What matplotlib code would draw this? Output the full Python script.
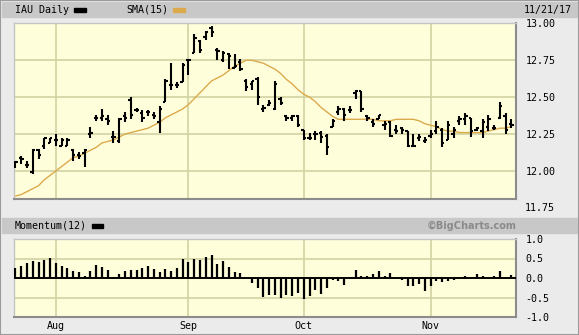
import matplotlib
matplotlib.use("Agg")
import matplotlib.pyplot as plt
from matplotlib.patches import Rectangle

# IAU daily bars, Jul 21 - Nov 21 2017
opens = [12.04, 12.09, 12.04, 11.99, 12.14, 12.17, 12.19, 12.21, 12.17, 12.17,
         12.14, 12.11, 12.12, 12.25, 12.36, 12.36, 12.35, 12.23, 12.20, 12.37,
         12.48, 12.41, 12.39, 12.40, 12.38, 12.33, 12.47, 12.58, 12.58, 12.60,
         12.75, 12.80, 12.88, 12.91, 12.97, 12.82, 12.75, 12.79, 12.70, 12.74,
         12.61, 12.59, 12.62, 12.42, 12.45, 12.42, 12.49, 12.37, 12.36, 12.37,
         12.28, 12.22, 12.25, 12.26, 12.24, 12.30, 12.40, 12.42, 12.41, 12.53,
         12.54, 12.37, 12.33, 12.35, 12.31, 12.33, 12.28, 12.29, 12.27, 12.17,
         12.22, 12.20, 12.24, 12.27, 12.28, 12.21, 12.25, 12.34, 12.35, 12.36,
         12.28, 12.27, 12.30, 12.29, 12.36, 12.37, 12.32]
highs = [12.07, 12.10, 12.07, 12.15, 12.15, 12.22, 12.22, 12.25, 12.22, 12.22,
         12.15, 12.13, 12.15, 12.30, 12.38, 12.42, 12.38, 12.27, 12.36, 12.40,
         12.50, 12.43, 12.41, 12.41, 12.40, 12.44, 12.62, 12.73, 12.60, 12.73,
         12.75, 12.93, 12.89, 12.95, 12.98, 12.83, 12.81, 12.80, 12.79, 12.76,
         12.62, 12.61, 12.64, 12.45, 12.48, 12.61, 12.50, 12.38, 12.38, 12.38,
         12.28, 12.26, 12.27, 12.27, 12.25, 12.35, 12.44, 12.43, 12.44, 12.55,
         12.54, 12.38, 12.35, 12.38, 12.34, 12.34, 12.31, 12.30, 12.27, 12.25,
         12.25, 12.23, 12.28, 12.34, 12.29, 12.34, 12.30, 12.37, 12.39, 12.36,
         12.30, 12.35, 12.38, 12.31, 12.47, 12.39, 12.35]
lows = [12.02, 12.05, 12.02, 11.98, 12.08, 12.15, 12.19, 12.17, 12.17, 12.17,
        12.07, 12.08, 12.03, 12.22, 12.34, 12.34, 12.31, 12.19, 12.19, 12.33,
        12.35, 12.40, 12.33, 12.37, 12.35, 12.26, 12.47, 12.55, 12.56, 12.60,
        12.65, 12.80, 12.80, 12.89, 12.91, 12.75, 12.74, 12.69, 12.70, 12.68,
        12.54, 12.55, 12.45, 12.40, 12.44, 12.41, 12.45, 12.34, 12.34, 12.30,
        12.21, 12.21, 12.21, 12.19, 12.11, 12.30, 12.38, 12.34, 12.39, 12.49,
        12.40, 12.34, 12.30, 12.35, 12.28, 12.23, 12.25, 12.25, 12.16, 12.16,
        12.20, 12.19, 12.22, 12.25, 12.16, 12.21, 12.22, 12.31, 12.31, 12.23,
        12.27, 12.22, 12.27, 12.28, 12.35, 12.25, 12.29]
closes = [12.06, 12.08, 12.04, 12.14, 12.11, 12.22, 12.22, 12.21, 12.21, 12.21,
          12.11, 12.10, 12.14, 12.26, 12.36, 12.37, 12.34, 12.23, 12.35, 12.36,
          12.38, 12.41, 12.36, 12.40, 12.37, 12.42, 12.61, 12.58, 12.58, 12.72,
          12.75, 12.90, 12.82, 12.94, 12.94, 12.81, 12.80, 12.78, 12.71, 12.69,
          12.57, 12.61, 12.50, 12.43, 12.46, 12.59, 12.46, 12.36, 12.37, 12.31,
          12.22, 12.22, 12.25, 12.23, 12.16, 12.34, 12.42, 12.38, 12.41, 12.54,
          12.42, 12.36, 12.32, 12.38, 12.32, 12.24, 12.27, 12.28, 12.17, 12.17,
          12.23, 12.21, 12.25, 12.30, 12.19, 12.31, 12.28, 12.35, 12.37, 12.27,
          12.29, 12.33, 12.35, 12.29, 12.44, 12.28, 12.31]
sma15 = [11.83, 11.84, 11.86, 11.88, 11.90, 11.94, 11.97, 12.00, 12.03, 12.06,
         12.09, 12.10, 12.12, 12.14, 12.16, 12.19, 12.20, 12.21, 12.23, 12.25,
         12.26, 12.27, 12.28, 12.29, 12.31, 12.33, 12.36, 12.38, 12.40, 12.42,
         12.45, 12.49, 12.53, 12.57, 12.61, 12.63, 12.65, 12.68, 12.71, 12.73,
         12.75, 12.75, 12.74, 12.73, 12.71, 12.69, 12.66, 12.62, 12.59, 12.55,
         12.52, 12.50, 12.47, 12.43, 12.40, 12.37, 12.35, 12.35, 12.35, 12.35,
         12.35, 12.35, 12.35, 12.34, 12.34, 12.34, 12.35, 12.35, 12.35, 12.35,
         12.34, 12.32, 12.31, 12.30, 12.28, 12.27, 12.27, 12.26, 12.26, 12.26,
         12.26, 12.26, 12.27, 12.28, 12.29, 12.29, 12.30]
momentum = [0.25, 0.31, 0.39, 0.44, 0.42, 0.46, 0.52, 0.39, 0.31, 0.25,
            0.18, 0.15, 0.04, 0.18, 0.33, 0.28, 0.21, 0.00, 0.10, 0.18,
            0.21, 0.21, 0.25, 0.31, 0.23, 0.16, 0.23, 0.18, 0.25, 0.49,
            0.41, 0.49, 0.46, 0.54, 0.60, 0.36, 0.44, 0.28, 0.15, 0.12,
            0.00, -0.13, -0.26, -0.48, -0.44, -0.44, -0.51, -0.44, -0.46, -0.39,
            -0.54, -0.46, -0.31, -0.42, -0.25, -0.05, -0.08, -0.18, -0.03, 0.20,
            0.06, 0.04, 0.09, 0.18, 0.04, 0.12, 0.00, -0.05, -0.21, -0.21,
            -0.16, -0.34, -0.21, -0.08, -0.11, -0.08, -0.05, -0.03, 0.06, -0.03,
            0.09, 0.06, 0.00, 0.06, 0.18, 0.00, 0.07]

month_labels = ["Aug", "Sep", "Oct", "Nov"]
month_pos = [7, 30, 50, 72]
price_ticks = [12.00, 12.25, 12.50, 12.75, 13.00]
mom_ticks = [-1.0, -0.5, 0.0, 0.5, 1.0]

W, H = 579, 335
BG = "#ebebeb"
HEAD = "#c8c8c8"
PANEL = "#fefedb"
GRID = "#d2d2a2"
SMA_COLOR = "#dcaa4c"
MONO = "DejaVu Sans Mono"
FS = 7.2

fig = plt.figure(figsize=(W / 100, H / 100), dpi=100, facecolor=BG)


def fx(px):
    return px / W


def fy(py):
    return 1 - py / H


# outer frame and header strips
fig.patches.append(Rectangle((0, 0), 1, 1, transform=fig.transFigure, fill=False,
                             edgecolor="#9a9a9a", linewidth=1.5))
for top, bot in [(2, 17), (218, 233)]:
    fig.patches.append(Rectangle((fx(2), fy(bot)), fx(W - 4), (bot - top) / H,
                                 transform=fig.transFigure, color=HEAD, zorder=0))

x = list(range(len(closes)))
xlim = (-0.25, 86.8)

ax = fig.add_axes([fx(14), fy(199), fx(502), (199 - 23.4) / H])
ax.set_facecolor(PANEL)
ax.set_xlim(*xlim)
ax.set_ylim(11.81, 13.0)
for m in month_pos:
    ax.axvline(m, color=GRID, linewidth=1.2, zorder=1)
for t in price_ticks[:-1]:
    ax.axhline(t, color=GRID, linewidth=1.2, zorder=1)
ax.plot(x, sma15, color=SMA_COLOR, linewidth=1.0, zorder=2)
w = 0.4
ax.vlines(x, lows, highs, color="black", linewidth=1.5, zorder=3)
ax.hlines(opens, [i - w for i in x], x, color="black", linewidth=1.5, zorder=3)
ax.hlines(closes, x, [i + w for i in x], color="black", linewidth=1.5, zorder=3)
ax.yaxis.tick_right()
ax.set_yticks(price_ticks)
ax.set_yticklabels([f"{t:.2f}" for t in price_ticks], fontfamily=MONO, fontsize=FS)
ax.tick_params(length=0, pad=7)
ax.set_xticks([])
ax.text(1 + 9 / 502, -0.05, "11.75", transform=ax.transAxes, fontfamily=MONO,
        fontsize=FS, ha="left", va="center")

ax2 = fig.add_axes([fx(14), fy(317), fx(502), 78 / H])
ax2.set_facecolor(PANEL)
ax2.set_xlim(*xlim)
ax2.set_ylim(-1.0, 1.0)
for m in month_pos:
    ax2.axvline(m, color=GRID, linewidth=1.2, zorder=1)
for t in [-0.5, 0.5]:
    ax2.axhline(t, color=GRID, linewidth=1.2, zorder=1)
ax2.vlines(x, 0, momentum, color="black", linewidth=1.6, zorder=3)
ax2.axhline(0, color="black", linewidth=1.4, zorder=3)
ax2.yaxis.tick_right()
ax2.set_yticks(mom_ticks)
ax2.set_yticklabels([f"{t:.1f}" for t in mom_ticks], fontfamily=MONO, fontsize=FS)
ax2.set_xticks(month_pos)
ax2.set_xticklabels(month_labels, fontfamily=MONO, fontsize=FS)
ax2.tick_params(length=0, pad=7)
ax2.tick_params(axis="x", pad=3)

for a in (ax, ax2):
    for side in ("top", "left"):
        a.spines[side].set_color("#c4c4c4")
        a.spines[side].set_linewidth(1)
    for side in ("bottom", "right"):
        a.spines[side].set_color("#8c8c8c")
        a.spines[side].set_linewidth(1.5)

# header texts and legend swatches
fig.text(fx(15), fy(10), "IAU Daily", fontfamily=MONO, fontsize=FS, va="center")
fig.patches.append(Rectangle((fx(74), fy(12)), fx(12), 4 / H, transform=fig.transFigure,
                             color="black"))
fig.text(fx(126), fy(10), "SMA(15)", fontfamily=MONO, fontsize=FS, va="center")
fig.patches.append(Rectangle((fx(173), fy(12)), fx(12), 4 / H, transform=fig.transFigure,
                             color=SMA_COLOR))
fig.text(fx(572), fy(10), "11/21/17", fontfamily=MONO, fontsize=FS, va="center", ha="right")
fig.text(fx(15), fy(225.5), "Momentum(12)", fontfamily=MONO, fontsize=FS, va="center")
fig.patches.append(Rectangle((fx(92), fy(227.5)), fx(11), 4 / H, transform=fig.transFigure,
                             color="black"))
fig.text(fx(516), fy(225.5), "\u00a9BigCharts.com", fontfamily="DejaVu Sans",
         fontweight="bold", fontsize=7, color="#8a8a8a", va="center", ha="right")

fig.savefig("out.png", dpi=100, facecolor=BG)
